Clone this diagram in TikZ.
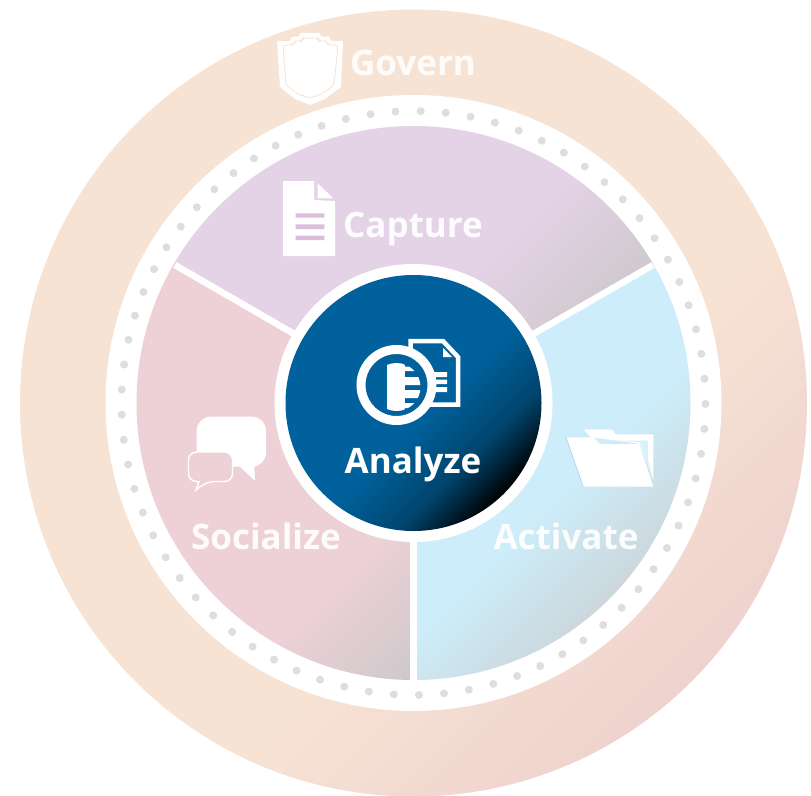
\documentclass[tikz,border=0pt]{standalone}
\usepackage{fontspec}
\setmainfont{Open Sans}
\definecolor{ringA}{HTML}{F7E3D4}
\definecolor{ringB}{HTML}{EED1CD}
\definecolor{purpA}{HTML}{E4D2E6}
\definecolor{pinkA}{HTML}{EED1D6}
\definecolor{blueA}{HTML}{CCEDF9}
\definecolor{endGray}{HTML}{CCC8CA}
\definecolor{coreA}{HTML}{00619C}
\definecolor{coreB}{HTML}{00446D}
\definecolor{dotC}{HTML}{DEDEDE}
\definecolor{iconBlue}{HTML}{A9D3E2}
\definecolor{barC}{HTML}{D9BFDC}
\pgfdeclarehorizontalshading{ringShade}{100bp}{color(0bp)=(ringA);color(57.7bp)=(ringA);color(74.6bp)=(ringB);color(100bp)=(ringB)}
\pgfdeclarehorizontalshading{purpShade}{100bp}{color(0bp)=(purpA);color(47bp)=(purpA);color(55bp)=(endGray);color(100bp)=(endGray)}
\pgfdeclarehorizontalshading{pinkShade}{100bp}{color(0bp)=(pinkA);color(54bp)=(pinkA);color(62bp)=(endGray);color(100bp)=(endGray)}
\pgfdeclarehorizontalshading{blueShade}{100bp}{color(0bp)=(blueA);color(60bp)=(blueA);color(71bp)=(endGray);color(100bp)=(endGray)}
\pgfdeclarehorizontalshading{coreShade}{100bp}{color(0bp)=(coreA);color(51bp)=(coreA);color(54.8bp)=(coreB);color(57.7bp)=(black);color(100bp)=(black)}
\tikzset{
  x=1pt,y=-1pt,
  fullshade/.style={shading=#1,shading angle=-45},
  label text/.style={font=\fontsize{35}{35}\selectfont\bfseries,text=white,text opacity=.92,inner sep=0pt,anchor=base},
  gap line/.style={draw=white,line width=6.5pt},
  icon/.style={fill=white,draw=none},
}
\newcommand{\wheelsq}{(-6.5,-17) rectangle (833.5,823)}
\begin{document}
\begin{tikzpicture}
\useasboundingbox (0,0) rectangle (811,795);
\coordinate (c) at (413.5,403);
\coordinate (gapL) at (175,265);
\coordinate (gapR) at (653,265);
\coordinate (gapB) at (413.5,680);
% outer ring
\begin{scope}
  \clip (c) circle[radius=393.5pt];
  \shade[fullshade=ringShade] \wheelsq;
\end{scope}
\fill[white] (c) circle[radius=308pt];
\foreach \i in {0,...,72}{
  \fill[dotC] ({413.5+292*cos(-88.6+\i*4.93151)},{403+292*sin(-88.6+\i*4.93151)}) circle[radius=4pt];
}
% sectors
\begin{scope}
  \clip (c) circle[radius=277pt];
  \clip (413.5,403) -- (-279.5,3) -- (-279.5,-800) -- (1106.5,-800) -- (1106.5,3) -- cycle;
  \shade[fullshade=purpShade] \wheelsq;
\end{scope}
\begin{scope}
  \clip (c) circle[radius=277pt];
  \clip (413.5,403) -- (1106.5,3) -- (1106.5,1200) -- (413.5,1200) -- cycle;
  \shade[fullshade=blueShade] \wheelsq;
\end{scope}
\begin{scope}
  \clip (c) circle[radius=277pt];
  \clip (413.5,403) -- (413.5,1200) -- (-279.5,1200) -- (-279.5,3) -- cycle;
  \shade[fullshade=pinkShade] \wheelsq;
\end{scope}
\draw[gap line] (c) -- (gapL);
\draw[gap line] (c) -- (gapR);
\draw[gap line] (c) -- (gapB);
% core
\fill[white] (c) circle[radius=139pt];
\begin{scope}
  \clip (c) circle[radius=128pt];
  \shade[fullshade=coreShade] \wheelsq;
\end{scope}
% shield
\fill[white,rounded corners=1pt] (277,41) -- (290,41) -- (292,36.5) -- (299,36.5) -- (300,33) -- (320,33) -- (321,36.5) -- (329,36.5) -- (331,41) -- (343,41) -- (341,87) -- (325,99) -- (310,105) -- (295,99) -- (280,87) -- cycle;
\draw[ringA,line width=.8pt,rounded corners=3pt] (283,45) -- (293,45) -- (295,41) -- (302,41) -- (303,38) -- (318,38) -- (319,41) -- (326,41) -- (328,45) -- (338,45) -- (334,85) -- (322,94) -- (310,98) -- (298,94) -- (286,85) -- cycle;
% document
\fill[icon] (283,181) -- (314,181) -- (314,200) -- (335,201) -- (335,256) -- (283,256) -- cycle;
\fill[icon] (317.7,183.3) -- (333.3,198.3) -- (317.7,198.3) -- cycle;
\fill[barC] (295.7,213.3) rectangle (324.3,217.7) (295.7,224.3) rectangle (324.3,229) (295.7,235.7) rectangle (324.3,240);
% analyze icon
\draw[white,line width=4.5pt,fill=coreA] (410.5,341) -- (443,341) -- (458,357) -- (458,404.5) -- (410.5,404.5) -- cycle;
\fill[white] (443,348) -- (452,357) -- (443,357) -- cycle;
\fill[white] (430,372) rectangle (447,377) (430,379.5) rectangle (447,384) (430,387) rectangle (447,392);
\draw[white,line width=9pt,fill=coreA] (396.5,385) circle[radius=35.5pt];
\begin{scope}
  \clip (396.5,387) circle[radius=24pt];
  \fill[white] (387.3,350) rectangle (405,420);
  \fill[white] (405,366.7) rectangle (417,371) (405,377) rectangle (425,385) (405,390) rectangle (425,398) (405,403) rectangle (417,408);
\end{scope}
% chat icon
\fill[icon,rounded corners=14pt] (196.7,416.7) rectangle (266,466.7);
\fill[icon] (238,465) -- (255,480.7) -- (254,462) -- cycle;
\draw[white,line width=1.4pt,fill=pinkA,rounded corners=8pt] (188.5,452) -- (232.5,452) -- (232.5,481.5) -- (206.7,481.5) [sharp corners] -- (196,490) -- (199,481.5) [rounded corners=8pt] -- (188.5,481.5) -- cycle;
% folder icon
\fill[icon] (584,429.3) -- (611.7,429.3) -- (615.7,434.3) -- (653.3,434.3) -- (653.3,480) -- (640,444) -- (590,437) -- cycle;
\fill[blueA!80!white] (600,440.5) -- (648,440.5) -- (648,460) -- (652.5,478) -- (640,442) -- cycle;
\fill[icon] (566,437.3) -- (593.3,437.3) -- (600,444) -- (639.3,444) -- (653.3,486.7) -- (583.3,486.7) -- cycle;
\draw[iconBlue,line width=.6pt] (566,437.3) -- (583.3,486.7);
% labels
\node[label text] (govern) at (413,75.5) {Govern};
\node[label text] (capture) at (413,237) {Capture};
\node[label text] (socialize) at (266,549.5) {Socialize};
\node[label text] (activate) at (566,549.5) {Activate};
\node[label text,text opacity=1] (analyze) at (413,473) {Analyze};
\end{tikzpicture}
\end{document}
